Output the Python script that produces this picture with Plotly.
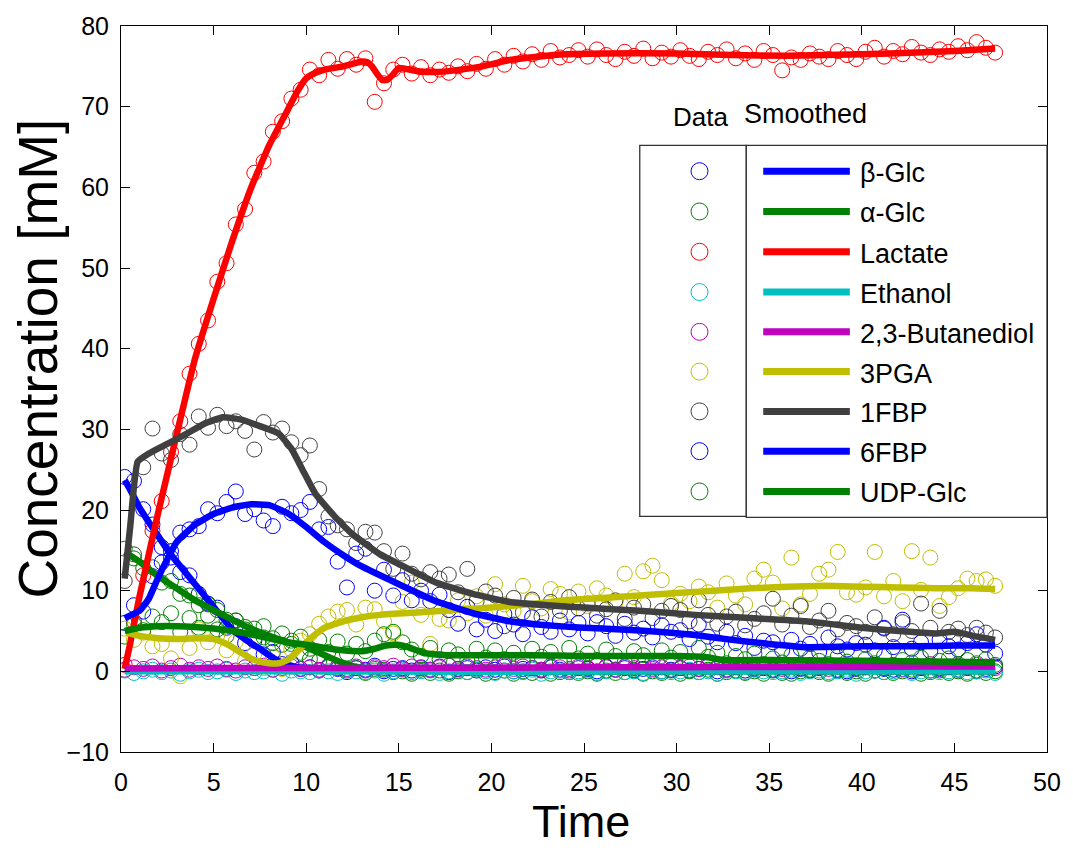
import plotly.graph_objects as go

# ---------------- data (measured time points) ----------------
time = [0.2, 0.7, 1.2, 1.7, 2.2, 2.7, 3.2, 3.7, 4.2, 4.7,
        5.2, 5.7, 6.2, 6.7, 7.2, 7.7, 8.2, 8.7, 9.2, 9.7,
        10.2, 10.7, 11.2, 11.7, 12.2, 12.7, 13.2, 13.7, 14.2, 14.7,
        15.2, 15.7, 16.2, 16.7, 17.2, 17.7, 18.2, 18.7, 19.2, 19.7,
        20.2, 20.7, 21.2, 21.7, 22.2, 22.7, 23.2, 23.7, 24.2, 24.7,
        25.2, 25.7, 26.2, 26.7, 27.2, 27.7, 28.2, 28.7, 29.2, 29.7,
        30.2, 30.7, 31.2, 31.7, 32.2, 32.7, 33.2, 33.7, 34.2, 34.7,
        35.2, 35.7, 36.2, 36.7, 37.2, 37.7, 38.2, 38.7, 39.2, 39.7,
        40.2, 40.7, 41.2, 41.7, 42.2, 42.7, 43.2, 43.7, 44.2, 44.7,
        45.2, 45.7, 46.2, 46.7, 47.2]

beta_glc = [24.1, 23.6, 20.1, 18.2, 15.4, 14.9, 12.3, 11.9, 9.6, 8.4,
            7.9, 5.4, 5.6, 3.5, 3.8, 2.1, 2.4, 0.9, 1.1, 0.3,
            0.5, 0.1, 0.6, 0.3, -0.1, 0.4, 0.2, 0.7, 0.0, 0.3,
            0.4, 0.1, 0.5, 0.2, 0.6, -0.1, 0.3, 0.4, 0.1, 0.5,
            0.2, 0.6, 0.0, 0.3, 0.4, 0.1, 0.5, 0.2, -0.1, 0.4,
            0.3, 0.0, 0.6, 0.2, 0.4, 0.1, 0.3, 0.5, 0.0, 0.2,
            0.4, 0.1, 0.3, 0.6, 0.0, 0.2, 0.5, 0.1, 0.3, 0.4,
            0.2, 0.5, 0.0, 0.3, 0.1, 0.4, 0.6, 0.2, 0.0, 0.3,
            0.5, 0.1, 0.3, 0.2, 0.6, 0.0, 0.4, 0.1, 0.3, 0.5,
            0.2, 0.4, 0.0, 0.3, 0.6]

alpha_glc = [15.2, 14.0, 12.8, 12.9, 11.0, 11.2, 9.6, 9.4, 8.2, 8.3,
             7.6, 6.4, 6.3, 5.2, 5.3, 4.2, 4.1, 3.3, 3.4, 2.3,
             1.5, 1.3, 0.5, 0.6, 0.1, 0.4, -0.2, 0.3, 0.2, -0.1,
             0.0, -0.3, 0.2, -0.2, 0.1, -0.3, 0.0, -0.1, 0.2, -0.3,
             -0.1, 0.1, -0.3, 0.0, -0.2, 0.2, -0.3, -0.1, 0.1, -0.2,
             0.0, -0.3, 0.1, -0.2, -0.1, 0.2, -0.3, 0.0, -0.2, 0.1,
             -0.3, 0.0, -0.1, 0.2, -0.3, -0.1, 0.1, -0.2, 0.0, -0.3,
             0.1, -0.2, -0.3, 0.0, 0.2, -0.1, -0.3, 0.1, -0.2, 0.0,
             -0.3, 0.1, -0.1, -0.2, 0.0, 0.2, -0.3, -0.1, 0.1, -0.2,
             0.0, -0.3, 0.1, -0.2, 0.0]

lactate = [0.8, 6.2, 11.9, 17.4, 21.1, 27.2, 31.0, 36.9, 40.6, 43.5,
           48.3, 50.6, 55.4, 57.3, 61.8, 63.2, 66.9, 68.2, 71.0, 72.1,
           74.6, 73.9, 75.8, 74.7, 75.9, 75.2, 76.0, 70.6, 72.9, 74.6,
           75.2, 74.1, 74.9, 73.9, 74.6, 74.2, 75.0, 74.4, 75.3, 74.7,
           75.9, 75.2, 76.3, 75.6, 76.5, 75.8, 76.9, 76.1, 76.4, 77.0,
           76.2, 77.1, 76.4, 75.9, 76.8, 76.3, 77.2, 76.0, 76.7, 76.2,
           77.0, 76.3, 75.9, 76.8, 76.4, 77.1, 76.0, 76.6, 75.8, 76.9,
           76.4, 74.5, 76.1, 75.8, 76.6, 76.2, 75.9, 76.9, 76.4, 75.9,
           76.8, 77.3, 76.2, 76.9, 76.5, 77.4, 76.7, 76.4, 77.1, 76.8,
           77.5, 77.0, 78.0, 77.3, 76.7]

ethanol = [0.1, -0.2, 0.0, 0.2, -0.1, 0.1, -0.3, 0.0, 0.2, -0.1,
           0.0, 0.2, -0.2, 0.1, -0.1, 0.0, 0.2, -0.3, 0.1, 0.0,
           -0.1, 0.1, 0.0, -0.2, 0.2, 0.0, -0.1, 0.1, -0.3, 0.0,
           0.2, -0.1, 0.0, 0.1, -0.2, 0.0, 0.1, -0.1, 0.2, 0.0,
           -0.2, 0.1, 0.0, -0.1, 0.2, -0.3, 0.0, 0.1, -0.1, 0.0,
           0.1, -0.2, 0.0, 0.2, -0.1, 0.0, -0.2, 0.1, 0.0, -0.1,
           0.0, 0.2, -0.1, 0.0, -0.3, 0.1, 0.0, -0.1, 0.2, 0.0,
           -0.1, 0.0, 0.2, -0.2, 0.0, 0.1, -0.1, 0.0, 0.2, -0.3,
           0.0, 0.1, -0.1, 0.0, 0.2, -0.2, 0.0, 0.1, -0.1, 0.0,
           0.2, -0.1, 0.0, 0.1, -0.2]

butanediol = [0.2, 0.5, 0.3, 0.6, 0.1, 0.4, 0.7, 0.2, 0.5, 0.3,
              0.6, 0.3, 0.1, 0.5, 0.4, 0.7, 0.2, 0.4, 0.6, 0.3,
              0.5, 0.2, 0.7, 0.4, 0.3, 0.6, 0.1, 0.5, 0.4, 0.7,
              0.3, 0.6, 0.4, 0.2, 0.5, 0.7, 0.3, 0.6, 0.4, 0.2,
              0.5, 0.8, 0.3, 0.6, 0.4, 0.2, 0.7, 0.5, 0.3, 0.6,
              0.4, 0.7, 0.5, 0.2, 0.6, 0.4, 0.8, 0.3, 0.5, 0.7,
              0.4, 0.6, 0.3, 0.7, 0.5, 0.2, 0.6, 0.8, 0.4, 0.5,
              0.7, 0.3, 0.6, 0.4, 0.8, 0.5, 0.3, 0.6, 0.7, 0.4,
              0.5, 0.8, 0.4, 0.6, 0.3, 0.7, 0.5, 0.9, 0.4, 0.6,
              0.7, 0.5, 0.8, 0.6, 0.4]

pga3 = [5.3, 3.9, 4.8, 3.1, 3.4, 1.6, -0.6, 2.9, 5.2, 3.6,
        4.5, 2.6, 3.7, 1.3, 2.2, 0.4, 1.8, 0.3, 2.7, 3.8,
        4.6, 5.9, 6.8, 7.4, 7.6, 5.8, 7.9, 7.7, 6.2, 4.7,
        8.6, 11.0, 7.0, 3.4, 6.5, 6.3, 8.8, 7.2, 9.3, 6.9,
        10.8, 8.3, 7.5, 10.6, 8.7, 7.8, 10.2, 9.6, 7.3, 9.9,
        8.1, 10.3, 9.4, 8.6, 12.1, 9.2, 12.4, 13.1, 11.3, 8.4,
        9.6, 8.7, 10.5, 9.8, 7.9, 10.9, 9.4, 8.3, 11.5, 12.6,
        11.0, 7.8, 14.1, 8.3, 9.6, 12.1, 12.6, 14.8, 9.8, 9.5,
        10.4, 14.8, 9.3, 11.2, 8.7, 14.9, 10.1, 14.1, 8.1, 9.2,
        10.3, 11.5, 11.2, 11.4, 10.6]

fbp1 = [11.2, 14.5, 25.3, 30.1, 27.0, 26.2, 29.4, 28.1, 31.6, 30.2,
        31.8, 30.4, 31.0, 29.8, 27.5, 30.9, 29.6, 30.1, 28.4, 26.8,
        28.0, 22.6, 19.2, 18.1, 17.6, 15.9, 17.3, 17.2, 14.9, 12.7,
        14.6, 12.1, 11.4, 12.3, 11.5, 12.0, 9.8, 12.7, 8.7, 9.9,
        9.4, 5.6, 9.1, 7.3, 8.9, 6.8, 8.6, 7.5, 9.2, 7.8,
        8.4, 6.9, 7.7, 8.8, 6.5, 7.9, 8.3, 6.6, 7.5, 8.1,
        7.6, 6.2, 8.8, 7.0, 5.9, 6.8, 7.4, 5.7, 6.5, 7.2,
        9.0, 5.8, 6.9, 8.1, 5.5, 6.3, 7.5, 5.2, 6.0, 5.6,
        4.9, 6.7, 5.3, 4.6, 6.1, 5.0, 8.4, 5.4, 7.5, 4.9,
        5.3, 4.5, 5.4, 4.8, 4.2]

fbp6 = [6.0, 8.2, 7.4, 11.8, 13.5, 14.1, 17.2, 17.6, 18.0, 20.1,
        19.6, 21.0, 22.3, 19.5, 20.1, 18.7, 18.0, 20.4, 19.6, 20.0,
        21.0, 17.6, 17.9, 13.6, 10.4, 14.6, 15.2, 10.0, 12.6, 9.4,
        11.3, 8.8, 10.0, 8.7, 9.5, 7.6, 5.9, 8.0, 5.2, 6.4,
        5.0, 7.1, 5.8, 4.6, 6.7, 5.5, 4.9, 6.3, 5.2, 6.0,
        4.7, 6.1, 5.6, 4.4, 5.9, 4.8, 5.3, 4.2, 5.7, 4.9,
        5.1, 4.0, 5.8, 4.3, 3.6, 4.9, 3.5, 4.4, 2.9, 3.8,
        3.6, 2.6, 3.9, 2.8, 3.4, 2.4, 4.2, 3.1, 2.7, 3.5,
        3.3, 2.6, 5.4, 3.0, 6.4, 2.8, 3.6, 2.5, 3.9, 3.1,
        2.7, 3.5, 4.6, 3.3, 2.2]

udp_glc = [4.3, 5.8, 5.1, 6.8, 6.1, 7.2, 4.9, 6.6, 5.4, 6.9,
           5.2, 4.4, 6.3, 5.5, 4.1, 5.6, 3.5, 4.7, 3.8, 4.3,
           2.8, 3.9, 2.4, 3.7, 2.2, 3.4, 2.5, 3.8, 4.6, 4.9,
           3.6, 2.7, 1.9, 2.9, 1.5, 2.6, 2.1, 1.4, 2.8, 1.7,
           2.6, 1.5, 2.3, 1.3, 2.8, 1.8, 2.4, 1.2, 2.9, 1.6,
           2.2, 1.4, 2.7, 1.9, 1.1, 2.5, 2.0, 1.3, 2.6, 1.7,
           2.4, 1.2, 2.9, 1.8, 2.3, 1.0, 1.9, 1.5, 2.2, 0.9,
           1.6, 1.1, 2.0, 0.8, 1.7, 1.3, 0.9, 1.8, 1.2, 0.7,
           1.5, 1.0, 1.9, 0.8, 1.4, 1.1, 1.7, 0.7, 1.3, 1.6,
           0.9, 1.4, 1.0, 1.5, 0.8]

# ---------------- smoothed curves ----------------
beta_glc_st = [0.2, 0.5, 1, 1.5, 2, 2.5, 3, 3.5, 4, 4.5, 5, 5.5, 6, 6.5, 7, 7.5, 8, 8.5, 9, 9.5, 10,
               11, 12, 15, 20, 25, 30, 35, 40, 45, 47.2]
beta_glc_s = [23.7, 22.5, 20.3, 18.5, 16.8, 15.1, 13.6, 12.2, 10.8, 9.4, 8.0, 6.6, 5.2, 4.3, 3.5, 2.8, 2.0,
              1.3, 0.8, 0.5, 0.4, 0.3, 0.3, 0.2, 0.2, 0.2, 0.2, 0.2, 0.2, 0.2, 0.2]

alpha_glc_st = [0.2, 1, 2, 3, 4, 5, 6, 7, 8, 9, 10, 11, 12, 13, 14, 20, 30, 40, 47.2]
alpha_glc_s = [14.8, 13.6, 11.8, 10.3, 8.8, 7.6, 6.4, 5.3, 4.4, 3.6, 3.0, 2.0, 1.0, 0.4, 0.2, 0.0, 0.0, 0.0, 0.0]

lactate_st = [0.2, 0.5, 1, 2, 3, 4, 5, 6, 7, 8, 9, 9.5, 10, 10.5, 11, 12, 12.5, 13, 13.3, 13.55, 13.85,
              14.1, 14.35, 14.65, 15, 16, 17, 18, 19.5, 21, 22.5, 24, 26, 30, 33, 36, 40, 43, 45, 47.2]
lactate_s = [0.3, 3.5, 9.3, 19.6, 29.3, 38.8, 46.2, 53.3, 59.8, 65.2, 69.6, 71.8, 73.5, 74.2, 74.6, 75.0,
             75.3, 75.6, 75.5, 75.0, 74.0, 73.3, 73.3, 73.9, 74.8, 74.4, 74.3, 74.5, 75.0, 75.8, 76.2,
             76.5, 76.6, 76.6, 76.4, 76.3, 76.5, 76.7, 76.9, 77.2]

ethanol_st = [0.2, 10, 20, 30, 40, 47.2]
ethanol_s = [0.0, 0.0, -0.05, 0.0, 0.0, 0.0]

butanediol_st = [0.2, 5, 10, 15, 20, 25, 30, 35, 40, 43, 47.2]
butanediol_s = [0.35, 0.4, 0.4, 0.45, 0.45, 0.5, 0.5, 0.55, 0.55, 0.6, 0.6]

pga3_st = [0.3, 1, 2, 3, 4, 5, 5.5, 6, 6.5, 7, 7.5, 8, 8.5, 9, 9.5, 10, 10.5, 11, 12, 13, 14, 16, 18,
           20, 22, 24, 26, 28, 30, 32, 34, 36, 38, 40, 42, 44, 46, 47.2]
pga3_s = [4.8, 4.4, 4.1, 4.0, 4.1, 4.0, 3.6, 3.0, 2.3, 1.6, 1.2, 1.0, 1.0, 1.4, 2.4, 3.6, 4.6, 5.4, 6.2,
          6.7, 7.0, 7.3, 7.6, 7.9, 8.3, 8.8, 9.1, 9.4, 9.7, 10.0, 10.3, 10.5, 10.6, 10.5, 10.4, 10.3,
          10.3, 10.2]

fbp1_st = [0.2, 0.5, 0.9, 1.5, 2.5, 3.5, 4.5, 5.5, 6.5, 7.5, 8.5, 9.2, 9.8, 10.5, 11.5, 12.5, 14, 15,
           17, 19, 21, 23, 25, 28, 31, 34, 37, 40, 42, 44, 45, 46, 47.2]
fbp1_s = [11.5, 18.0, 26.0, 27.0, 28.2, 29.4, 30.7, 31.5, 31.2, 30.4, 29.5, 27.6, 25.0, 22.0, 19.3,
          17.0, 14.5, 13.3, 11.0, 9.6, 8.6, 8.2, 7.9, 7.5, 7.0, 6.6, 6.2, 5.4, 5.0, 4.7, 4.9, 4.4, 3.9]

fbp6_st = [0.2, 1, 1.5, 2, 2.5, 3, 4, 5, 6, 7, 8, 9, 10, 11, 12, 13, 15, 17, 19, 21, 23, 25, 27, 29,
           31, 33, 35, 37, 40, 43, 45, 47.2]
fbp6_s = [6.6, 7.5, 9.0, 11.6, 13.9, 16.0, 18.2, 19.5, 20.3, 20.7, 20.6, 19.6, 17.9, 16.0, 14.4, 13.0,
          10.8, 8.7, 7.2, 6.2, 5.7, 5.4, 5.2, 4.9, 4.5, 3.9, 3.4, 3.0, 3.1, 3.1, 3.2, 3.2]

udp_glc_st = [0.2, 1, 2, 3, 4, 5, 6, 7, 8, 9, 10, 11, 12, 13, 13.7, 14.3, 14.9, 15.5, 16.3, 17, 18,
              20, 22, 25, 28, 30, 31.5, 32.5, 35, 40, 45, 47.2]
udp_glc_s = [5.0, 5.4, 5.6, 5.6, 5.5, 5.3, 5.0, 4.6, 4.1, 3.6, 3.3, 2.9, 2.6, 2.5, 2.8, 3.2, 3.3, 3.0,
             2.3, 2.1, 2.0, 2.0, 2.0, 1.9, 1.9, 1.9, 1.8, 1.4, 1.4, 1.3, 1.2, 1.1]

names = ["β-Glc", "α-Glc", "Lactate", "Ethanol", "2,3-Butanediol", "3PGA", "1FBP", "6FBP", "UDP-Glc"]
colors = ["#0000FF", "#008000", "#FF0000", "#00BFBF", "#BF00BF", "#BFBF00", "#404040", "#0000FF", "#008000"]
data_series = [beta_glc, alpha_glc, lactate, ethanol, butanediol, pga3, fbp1, fbp6, udp_glc]
smooth_t = [beta_glc_st, alpha_glc_st, lactate_st, ethanol_st, butanediol_st, pga3_st, fbp1_st, fbp6_st, udp_glc_st]
smooth_v = [beta_glc_s, alpha_glc_s, lactate_s, ethanol_s, butanediol_s, pga3_s, fbp1_s, fbp6_s, udp_glc_s]

x_ticks = [0, 5, 10, 15, 20, 25, 30, 35, 40, 45, 50]
y_ticks = [-10, 0, 10, 20, 30, 40, 50, 60, 70, 80]

FONT = "Arial, Liberation Sans, sans-serif"
W, H = 1073, 848
L, R, T, B = 121, 1051, 22, 752   # plot box in pixels


def px(x):
    return (x - L) / (R - L)


def py(y):
    return (B - y) / (B - T)


fig = go.Figure()

for vals, col, nm in zip(data_series, colors, names):
    fig.add_trace(go.Scatter(x=time, y=vals, mode="markers", name=nm + " data",
                             marker=dict(symbol="circle-open", size=15, color=col,
                                         line=dict(width=1, color=col)),
                             showlegend=False, cliponaxis=True))

for tt, vv, col, nm in zip(smooth_t, smooth_v, colors, names):
    fig.add_trace(go.Scatter(x=tt, y=vv, mode="lines", name=nm,
                             line=dict(color=col, width=6.5, shape="spline", smoothing=0.4),
                             showlegend=False))

shapes = []
annotations = []

# legend boxes
shapes.append(dict(type="rect", xref="paper", yref="paper", x0=px(642), x1=px(749), y0=py(515), y1=py(142),
                   line=dict(color="#333333", width=1.3), fillcolor="white", layer="above"))
shapes.append(dict(type="rect", xref="paper", yref="paper", x0=px(749), x1=px(1051), y0=py(516), y1=py(142),
                   line=dict(color="#333333", width=1.3), fillcolor="white", layer="above"))

legend_rows = [168, 208.5, 249, 289.5, 329.5, 369.5, 409.5, 449.5, 490]
for ry, col, nm in zip(legend_rows, colors, names):
    shapes.append(dict(type="circle", xref="paper", yref="paper", xsizemode="pixel", ysizemode="pixel",
                       xanchor=px(702), yanchor=py(ry), x0=-8.5, x1=8.5, y0=-8.5, y1=8.5,
                       line=dict(color=col, width=1), layer="above"))
    shapes.append(dict(type="line", xref="paper", yref="paper", x0=px(766), x1=px(853), y0=py(ry), y1=py(ry),
                       line=dict(color=col, width=7), layer="above"))
    annotations.append(dict(text=nm, xref="paper", yref="paper", x=px(861), y=py(ry + 2),
                            xanchor="left", yanchor="middle", showarrow=False,
                            font=dict(family=FONT, size=27, color="black")))

annotations.append(dict(text="Data", xref="paper", yref="paper", x=px(703), y=py(113),
                        xanchor="center", yanchor="middle", showarrow=False,
                        font=dict(family=FONT, size=26, color="black")))
annotations.append(dict(text="Smoothed", xref="paper", yref="paper", x=px(808), y=py(110),
                        xanchor="center", yanchor="middle", showarrow=False,
                        font=dict(family=FONT, size=27, color="black")))

# axis titles
annotations.append(dict(text="Time", xref="paper", yref="paper", x=px(583), y=py(822),
                        xanchor="center", yanchor="middle", showarrow=False,
                        font=dict(family=FONT, size=45, color="black")))
annotations.append(dict(text="Concentration [mM]", xref="paper", yref="paper", x=px(38), y=py(356),
                        xanchor="center", yanchor="middle", showarrow=False, textangle=-90,
                        font=dict(family=FONT, size=55, color="black")))

axis_common = dict(showgrid=False, zeroline=False, showline=True, linecolor="black", linewidth=1,
                   mirror="ticks", ticks="inside", ticklen=9, tickwidth=1, tickcolor="black",
                   tickfont=dict(family=FONT, size=25, color="black"))

fig.update_layout(
    width=W, height=H,
    margin=dict(l=L, r=W - R, t=T, b=H - B, pad=0),
    paper_bgcolor="white", plot_bgcolor="white",
    xaxis=dict(range=[0, 50], tickvals=x_ticks, ticklabelstandoff=8, **axis_common),
    yaxis=dict(range=[-10, 80], tickvals=y_ticks, ticklabelstandoff=6, **axis_common),
    shapes=shapes, annotations=annotations, showlegend=False,
)

fig.write_html("out.html")
